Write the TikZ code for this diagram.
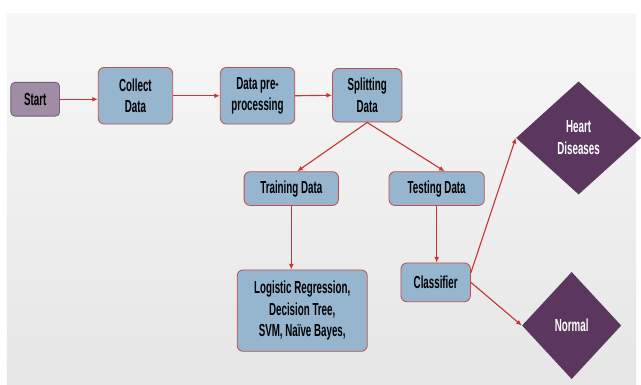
\documentclass[tikz,border=0pt]{standalone}
\usepackage{xcolor}
\usepackage{fontspec}
\usepackage{tikz}
\usetikzlibrary{shapes.geometric,arrows.meta}
\setmainfont{Liberation Sans}[FakeStretch=0.56]
\definecolor{stepblue}{RGB}{150,182,208}
\definecolor{edgered}{RGB}{192,80,77}
\definecolor{arrowred}{RGB}{200,52,52}
\definecolor{startmauve}{RGB}{160,140,164}
\definecolor{resultpurple}{RGB}{91,55,96}

\begin{document}
\begin{tikzpicture}[
    stepbox/.style={draw=edgered, line width=0.6pt, rounded corners=0.15cm, fill=stepblue,
        align=center, inner sep=0pt, font=\fontsize{12.5}{15.6}\selectfont\bfseries},
    result/.style={diamond, fill=resultpurple, text=white, inner sep=0pt, align=center,
        font=\fontsize{12.5}{15.6}\selectfont\bfseries},
    flow/.style={draw=arrowred, line width=0.8pt, -{Latex[length=4pt,width=3.5pt]}}
]
    % Page and shaded panel
    \fill[white] (0,0) rectangle (16.025,9.675);
    \shade[top color=black!3, bottom color=black!10] (0.175,0) rectangle (16.025,9.325);

    % Top row
    \node[stepbox, fill=startmauve, draw=startmauve!70!black, rounded corners=0.1cm,
        minimum width=1.225cm, minimum height=0.85cm] (start) at (0.8875,7.175) {Start};
    \node[stepbox, minimum width=1.875cm, minimum height=1.425cm] (collect) at (3.4125,7.2625) {Collect\\Data};
    \node[stepbox, minimum width=1.875cm, minimum height=1.425cm] (prep) at (6.4875,7.2625) {Data pre-\\processing};
    \node[stepbox, minimum width=1.75cm, minimum height=1.35cm] (split) at (9.25,7.275) {Splitting\\Data};

    % Split into two sets
    \node[stepbox, minimum width=2.375cm, minimum height=0.85cm] (train) at (7.3375,4.925) {Training Data};
    \node[stepbox, minimum width=2.4cm, minimum height=0.85cm] (test) at (11.0,4.925) {Testing Data};

    % Models and classifier
    \node[stepbox, minimum width=3.275cm, minimum height=2.05cm] (models) at (7.6125,1.85)
        {Logistic Regression,\\Decision Tree,\\SVM, Na\"{\i}ve Bayes,};
    \node[stepbox, minimum width=1.75cm, minimum height=0.975cm] (classifier) at (10.975,2.5625) {Classifier};

    % Outcomes
    \node[result, minimum width=3.15cm, minimum height=2.85cm] (heart) at (14.575,6.2) {Heart\\Diseases};
    \node[result, minimum width=2.5cm, minimum height=2.7cm] (normal) at (14.4,1.475) {Normal};

    % Connections
    \draw[flow] (start.east) -- (start.east -| collect.west);
    \draw[flow] (collect.east) -- (prep.west);
    \draw[flow] (prep.east) -- (split.west);
    \draw[flow] (split.south) -- ([xshift=0.15cm]train.north);
    \draw[flow] (split.south) -- ([xshift=0.2cm]test.north);
    \draw[flow] (train.south) -- (train.south |- models.north);
    \draw[flow] (test.south) -- (test.south |- classifier.north);
    \draw[flow] ([yshift=0.24cm]classifier.east) -- (heart.west);
    \draw[flow] (classifier.east) -- (normal.west);
\end{tikzpicture}
\end{document}
